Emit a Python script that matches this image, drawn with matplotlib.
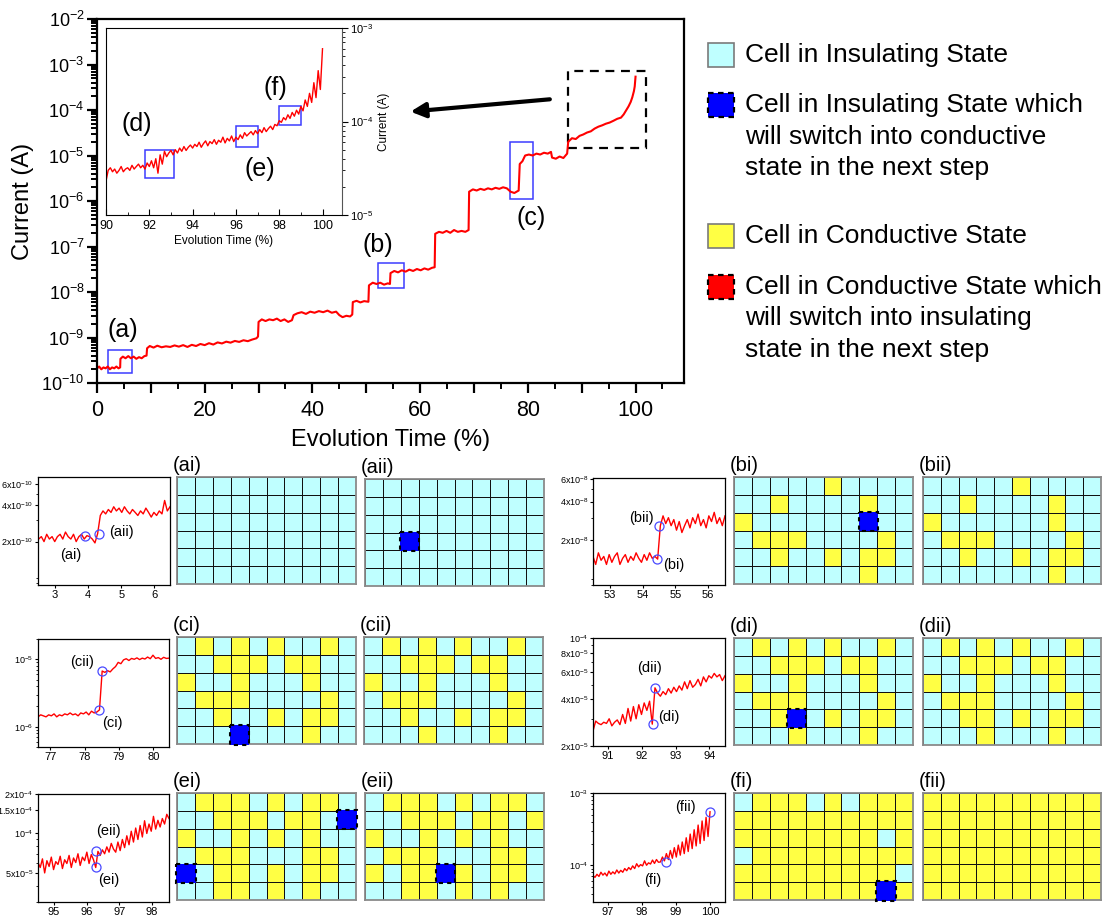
import numpy as np
import matplotlib
matplotlib.use("Agg")
import matplotlib.pyplot as plt
from matplotlib.patches import Rectangle
from matplotlib.colors import ListedColormap
from matplotlib.ticker import (LogLocator, FixedLocator, FixedFormatter,
                               MultipleLocator, FuncFormatter, NullFormatter)

plt.rcParams['font.family'] = ['Liberation Sans', 'DejaVu Sans']
plt.rcParams['mathtext.fontset'] = 'custom'
plt.rcParams['mathtext.rm'] = 'Liberation Sans'
plt.rcParams['mathtext.it'] = 'Liberation Sans'
plt.rcParams['mathtext.default'] = 'regular'

#%% data
main_time = [0, 0.4, 0.8, 1.2, 1.6, 2.0, 2.4, 2.8, 3.2, 3.6, 4.0, 4.3,
             4.35, 4.8, 5.3, 5.8, 6.3, 6.8, 7.3, 7.8, 8.3, 8.8, 9.2,
             9.3, 9.8, 10.5, 11.2, 12, 12.8, 13.6, 14.4, 15.2, 16, 16.8, 17.6, 18.4, 19.2,
             20, 20.8, 21.6, 22.4, 23.2, 24, 24.8, 25.6, 26.4, 27.2, 28, 28.8, 29.6, 29.9,
             30.0, 30.6, 31.3, 32, 32.7, 33.4, 34.1, 34.8, 35.5, 36.2,
             36.5, 37.2, 38, 38.8, 39.6, 40.4, 41.2, 42, 42.8, 43.6, 44.4, 45.0, 45.6, 46.3, 47.0, 47.4,
             47.5, 48.2, 48.9, 49.6, 50.4,
             50.5, 51.2, 51.9, 52.6, 53.3, 54.0, 54.4,
             54.5, 55.2, 55.9, 56.6, 57.3, 58, 58.7, 59.4, 60.1, 60.8, 61.5, 62.2, 62.7,
             62.8, 63.5, 64.2, 64.9, 65.6, 66.3, 67, 67.7, 68.4, 69.0,
             69.1, 69.8, 70.5, 71.2, 71.9, 72.6, 73.3, 74, 74.7, 75.4, 76.1, 76.8, 77.5, 78.3,
             78.5, 79, 79.5, 80.2, 80.9, 81.6, 82.3, 83, 83.7, 84.3,
             84.5, 85.2, 85.9, 86.6, 87.3,
             87.5, 88.2, 88.9, 89.6, 90.3, 91, 91.7, 92.4, 93.1, 93.8, 94.5, 95.2, 95.9, 96.6,
             97.3, 97.8, 98.3, 98.7, 99.1, 99.4, 99.7, 99.85, 100]
main_current = [2.1e-10, 2.3e-10, 2.0e-10, 2.2e-10, 2.1e-10, 2.3e-10, 2.0e-10, 2.2e-10, 2.1e-10, 2.3e-10, 2.1e-10, 2.2e-10,
                3.4e-10, 3.8e-10, 3.5e-10, 3.9e-10, 3.5e-10, 3.8e-10, 3.4e-10, 3.7e-10, 3.5e-10, 3.9e-10, 4.0e-10,
                5.8e-10, 6.5e-10, 6.0e-10, 6.6e-10, 6.1e-10, 6.4e-10, 6.2e-10, 6.7e-10, 6.3e-10, 6.8e-10, 6.2e-10, 6.9e-10,
                6.5e-10, 7.2e-10, 6.8e-10, 7.5e-10, 7.0e-10, 7.8e-10, 7.4e-10, 8.1e-10, 7.7e-10, 8.4e-10, 8.0e-10, 8.7e-10,
                8.3e-10, 9.0e-10, 9.6e-10, 1.05e-9,
                2.2e-9, 2.5e-9, 2.3e-9, 2.5e-9, 2.4e-9, 2.6e-9, 2.3e-9, 2.5e-9, 2.2e-9, 2.4e-9,
                3.1e-9, 3.4e-9, 3.6e-9, 3.3e-9, 3.7e-9, 3.5e-9, 3.8e-9, 3.6e-9, 3.9e-9, 3.5e-9, 3.7e-9, 3.1e-9,
                2.8e-9, 3.0e-9, 2.9e-9, 3.2e-9,
                6.0e-9, 6.4e-9, 5.9e-9, 6.3e-9, 6.1e-9,
                1.4e-8, 1.6e-8, 1.5e-8, 1.6e-8, 1.45e-8, 1.55e-8, 1.5e-8,
                2.6e-8, 2.9e-8, 2.7e-8, 3.0e-8, 2.8e-8, 3.1e-8, 2.9e-8, 3.2e-8, 3.0e-8, 3.3e-8, 3.1e-8, 3.4e-8, 3.5e-8,
                1.9e-7, 2.1e-7, 2.0e-7, 2.2e-7, 2.0e-7, 2.3e-7, 2.1e-7, 2.2e-7, 2.1e-7, 2.3e-7,
                1.6e-6, 1.8e-6, 1.7e-6, 1.85e-6, 1.75e-6, 1.9e-6, 1.8e-6, 1.95e-6, 1.85e-6, 2.0e-6, 1.9e-6, 1.6e-6,
                1.5e-6, 1.7e-6,
                6.5e-6, 7.5e-6, 1.0e-5, 1.05e-5, 1.0e-5, 1.1e-5, 1.05e-5, 1.15e-5, 1.1e-5, 1.2e-5,
                9.0e-6, 8.5e-6, 9.5e-6, 8.8e-6, 1.1e-5,
                2.0e-5, 2.4e-5, 2.3e-5, 2.7e-5, 2.9e-5, 3.2e-5, 3.4e-5, 3.9e-5, 4.3e-5, 4.6e-5, 5.0e-5, 5.3e-5,
                5.8e-5, 6.4e-5, 6.8e-5, 8.0e-5, 1.0e-4, 1.2e-4, 1.5e-4, 1.9e-4, 2.6e-4, 3.3e-4, 5.4e-4]

inset_time = np.linspace(90, 100, 101)
inset_current = np.array([
    2.3, 3.0, 3.2, 2.9, 3.1, 2.8, 3.0, 3.3, 2.9, 3.1,
    3.2, 3.0, 3.4, 3.1, 3.3, 3.5, 3.2, 3.4, 3.1, 3.6,
    3.3, 3.8, 3.2, 4.0, 2.8, 4.4, 3.5, 4.8, 4.2, 4.6,
    4.9, 4.4, 5.0, 4.6, 5.2, 4.8, 5.4, 4.9, 5.3, 5.6,
    5.2, 5.7, 5.4, 6.0, 5.3, 5.8, 6.2, 5.5, 6.1, 5.8,
    6.4, 5.7, 6.3, 6.0, 6.8, 5.9, 6.6, 6.2, 7.0, 6.1,
    6.8, 6.4, 7.2, 6.6, 7.6, 7.0, 7.4, 7.8, 7.2, 8.0,
    7.4, 8.2, 7.6, 8.6, 7.8, 8.4, 8.9, 8.2, 9.3, 9.0,
    10.2, 9.8, 11.0, 10.4, 11.8, 10.8, 12.5, 11.4, 13.2, 12.0,
    14.5, 13.0, 17.0, 14.5, 20.0, 16.0, 26.0, 18.0, 35.0, 22.0,
    60.0]) * 1e-5

# zoomed traces (a)-(f)
a_time = np.linspace(2.5, 6.48, 50)
a_current = np.array([2.1, 2.2, 2.0, 2.3, 2.1, 2.2, 2.0, 2.2, 2.3, 2.1, 2.4, 2.2, 2.1, 2.3, 2.0, 2.2,
                      2.3, 2.1, 2.24, 2.2, 2.1, 1.95, 2.33,
                      3.3, 3.6, 3.4, 3.7, 3.5, 3.9, 3.6, 3.8, 3.5, 3.9, 3.6, 3.4, 3.7, 3.5, 3.3, 3.6,
                      3.4, 3.8, 3.5, 3.2, 3.5, 3.3, 3.6, 3.4, 4.4, 3.6, 3.9]) * 1e-10
b_time = np.linspace(52.48, 56.52, 50)
b_current = np.array([1.5, 1.3, 1.6, 1.4, 1.5, 1.3, 1.55, 1.35, 1.5, 1.6, 1.3, 1.45, 1.55, 1.35, 1.5,
                      1.4, 1.6, 1.45, 1.35, 1.55, 1.4, 1.6, 1.45, 1.5, 1.43,
                      2.6, 3.1, 2.7, 3.0, 2.6, 2.9, 2.4, 2.8, 2.3, 2.6, 2.9, 2.5, 3.0, 2.7, 3.2,
                      2.6, 2.9, 2.5, 3.1, 2.8, 3.3, 2.7, 3.0, 2.6, 3.1]) * 1e-8
c_time = np.linspace(76.65, 80.45, 50)
c_current = np.array([1.4, 1.5, 1.45, 1.4, 1.5, 1.45, 1.55, 1.4, 1.5, 1.45, 1.55, 1.5, 1.6, 1.5, 1.55,
                      1.45, 1.6, 1.55, 1.65, 1.5, 1.7, 1.6, 1.65, 1.78,
                      6.7, 6.4, 6.8, 6.5, 7.2, 7.8, 9.0, 8.6, 9.8, 10.2, 9.6, 10.3, 10.0, 10.5, 9.9,
                      10.4, 10.1, 10.8, 10.2, 11.5, 10.3, 10.6, 10.0, 10.7, 10.3, 10.4]) * 1e-6
d_time = np.linspace(90.55, 94.47, 50)
d_current = np.array([2.5, 2.9, 2.8, 2.75, 2.85, 2.8, 3.0, 2.7, 2.85, 2.95, 2.75, 3.2, 2.8, 3.5, 2.9,
                      3.6, 3.0, 3.7, 3.2, 3.8, 3.4, 3.9, 2.77,
                      4.76, 4.4, 4.2, 4.5, 4.3, 4.7, 4.4, 4.8, 4.5, 4.9, 4.6, 5.2, 4.7, 5.3, 4.8,
                      5.0, 5.4, 4.9, 5.6, 5.2, 5.7, 5.5, 5.9, 5.6, 5.8, 5.3, 5.7]) * 1e-5
e_time = np.linspace(94.51, 98.52, 60)
e_current = np.array([6.0, 5.5, 6.4, 5.0, 6.2, 5.6, 6.6, 5.3, 6.1, 5.8, 6.7, 5.4, 6.3, 5.9, 6.8,
                      5.5, 6.5, 6.0, 7.0, 5.7, 6.6, 6.2, 7.2, 5.9, 6.9, 6.3, 5.5,
                      7.3, 6.8, 7.5, 7.0, 7.9, 7.2, 8.4, 7.6, 7.2, 8.6, 7.4, 9.0, 7.8, 9.6, 8.2,
                      10.4, 8.6, 11.0, 9.0, 11.5, 9.4, 12.5, 10.0, 11.8, 10.4, 13.5, 10.8, 12.6,
                      11.2, 13.0, 11.8, 14.0, 13.0]) * 1e-5
f_time = np.linspace(96.56, 100.0, 60)
f_current = np.array([7.2, 6.8, 7.5, 7.0, 8.0, 7.3, 7.8, 7.1, 8.3, 7.5, 8.1, 7.6, 8.6, 7.8, 8.5, 8.0, 9.0,
                      8.4, 9.3, 8.7, 9.8, 9.0, 10.5, 9.5, 10.2, 9.8, 11.5, 10.0, 10.8, 10.4, 11.8, 10.6,
                      12.0, 11.0,
                      11.1, 13.0, 11.5, 14.5, 12.0, 16.0, 12.5, 17.5, 13.0, 19.0, 13.8, 21.0,
                      14.5, 24.0, 15.5, 27.0, 17.0, 31.0, 18.5, 36.0, 20.0, 41.0, 22.0, 46.0,
                      25.0, 55.0]) * 1e-5

# cell states: 0 insulating, 1 conductive, 2 insulating -> will switch
grid_ai = ["0000000000"] * 6
grid_aii = ["0000000000", "0000000000", "0000000000", "0020000000", "0000000000", "0000000000"]
grid_bi = ["0000010000", "0010000100", "1000000200", "0111000010", "0010010110", "0000000100"]
grid_bii = ["0000010000", "0010000100", "1000000100", "0111000010", "0010010110", "0000000100"]
grid_ci = ["0101010010", "0011101100", "1001000100", "0111000010", "0010010110", "0002000100"]
grid_cii = ["0101010010", "0011101100", "1001000100", "0111000010", "0010010110", "0001000100"]
grid_di = ["0101010010", "0011101100", "1001000100", "0111000010", "0012010110", "0001000100"]
grid_dii = ["0101010010", "0011101100", "1001000100", "0111000010", "0011010110", "0001000100"]
grid_ei = ["0111010110", "0011101102", "1001010100", "0111000110", "2011010110", "0011010100"]
grid_eii = ["0111010110", "0011101101", "1001010100", "0111000110", "1011210110", "0011010100"]
grid_fi = ["0111010111", "1111111111", "1111111101", "0111111111", "1111111110", "1111111121"]
grid_fii = ["1111111111"] * 6

legend_labels = ["Cell in Insulating State",
                 ["Cell in Insulating State which", "will switch into conductive", "state in the next step"],
                 "Cell in Conductive State",
                 ["Cell in Conductive State which", "will switch into insulating", "state in the next step"]]

#%% styling
W, H = 1110, 915
cyan = '#BFFFFF'
yellow = '#FFFF44'
blue = '#0000FF'
red = '#FF0000'
box_blue = '#3C3CFF'


def box(l, t, r, b):
    return [l / W, 1 - b / H, (r - l) / W, (b - t) / H]


fig = plt.figure(figsize=(11.1, 9.15), dpi=100)

#%% main plot
ax = fig.add_axes(box(97, 19, 684, 383))
ax.plot(main_time, main_current, color=red, lw=1.5)
ax.set_yscale('log')
ax.set_xlim(0, 109)
ax.set_ylim(1e-10, 1e-2)
ax.xaxis.set_major_locator(MultipleLocator(10))
ax.xaxis.set_minor_locator(MultipleLocator(5))
ax.xaxis.set_major_formatter(FuncFormatter(lambda v, p: f"{v:.0f}" if round(v) % 20 == 0 else ""))
ax.yaxis.set_major_locator(LogLocator(base=10, numticks=20))
ax.yaxis.set_minor_locator(LogLocator(base=10, subs=np.arange(2, 10), numticks=20))
ax.yaxis.set_minor_formatter(NullFormatter())
ax.tick_params(which='major', direction='out', length=7, width=1.6)
ax.tick_params(which='minor', direction='out', length=4, width=1.4)
ax.tick_params(axis='x', labelsize=15.5, pad=5)
ax.tick_params(axis='y', labelsize=13, pad=2)
for s in ax.spines.values():
    s.set_linewidth(1.6)
ax.set_xlabel('Evolution Time (%)', fontsize=17, labelpad=6)
ax.set_ylabel('Current (A)', fontsize=17, labelpad=5)

main_boxes = [(2.0, 6.5, 1.66e-10, 5.3e-10), (52.1, 57.0, 1.23e-8, 4.4e-8), (76.6, 80.9, 1.1e-6, 2e-5)]
for x0, x1, y0, y1 in main_boxes:
    ax.add_patch(Rectangle((x0, y0), x1 - x0, y1 - y0, fill=False, ec=box_blue, lw=1.1))
ax.add_patch(Rectangle((87.4, 1.43e-5), 14.5, 7.2e-4 - 1.43e-5, fill=False, ec='k', lw=1.6,
                       ls=(0, (4, 3))))
ax.annotate('', xy=(57.7, 9.1e-5), xytext=(84.6, 1.74e-4),
            arrowprops=dict(arrowstyle='-|>', lw=3, color='k', mutation_scale=22))
for txt, x, y in [('(a)', 4.8, 1.45e-9), ('(b)', 52.1, 1.07e-7), ('(c)', 80.7, 4.3e-7)]:
    ax.text(x, y, txt, fontsize=18, ha='center', va='center')

#%% inset
axin = fig.add_axes(box(106, 28, 342, 215))
axin.set_facecolor('white')
axin.plot(inset_time, inset_current, color=red, lw=1)
axin.set_yscale('log')
axin.set_xlim(90, 100.9)
axin.set_ylim(1e-5, 1e-3)
axin.yaxis.tick_right()
axin.yaxis.set_label_position('right')
axin.xaxis.set_major_locator(MultipleLocator(2))
axin.xaxis.set_minor_locator(MultipleLocator(1))
axin.tick_params(axis='x', which='major', direction='in', length=4, labelsize=9)
axin.tick_params(axis='x', which='minor', direction='in', length=2.5)
axin.tick_params(axis='y', which='major', direction='out', length=4, labelsize=8, pad=2)
axin.tick_params(axis='y', which='minor', direction='out', length=2.5)
axin.spines['right'].set_color('#555555')
axin.set_xlabel('Evolution Time (%)', fontsize=8.5, labelpad=2)
axin.set_ylabel('Current (A)', fontsize=8.5, labelpad=3)
inset_boxes = [(91.8, 93.15, 2.5e-5, 4.9e-5), (96.0, 97.0, 5.4e-5, 8.9e-5), (98.0, 99.0, 9.1e-5, 1.48e-4)]
for x0, x1, y0, y1 in inset_boxes:
    axin.add_patch(Rectangle((x0, y0), x1 - x0, y1 - y0, fill=False, ec=box_blue, lw=1.1))
for txt, x, y in [('(d)', 91.43, 9.3e-5), ('(e)', 97.1, 3.1e-5), ('(f)', 97.8, 2.3e-4)]:
    axin.text(x, y, txt, fontsize=18, ha='center', va='center')


#%% zoomed traces
def small_plot(rect, t, cur, xlim, ylim, xticks, yticks, ylabels, circles, labels):
    a = fig.add_axes(box(*rect))
    a.plot(t, cur, color=red, lw=1)
    a.set_yscale('log')
    a.set_xlim(*xlim)
    a.set_ylim(*ylim)
    a.xaxis.set_major_locator(FixedLocator(xticks))
    a.yaxis.set_major_locator(FixedLocator(yticks))
    a.yaxis.set_major_formatter(FixedFormatter(ylabels))
    a.yaxis.set_minor_locator(LogLocator(base=10, subs=np.arange(1, 10), numticks=20))
    a.yaxis.set_minor_formatter(NullFormatter())
    a.tick_params(which='major', direction='out', length=2.5, width=0.8, pad=1)
    a.tick_params(axis='x', labelsize=8)
    a.tick_params(axis='y', labelsize=6.5)
    a.tick_params(which='minor', direction='out', length=1.5, width=0.6)
    for s in a.spines.values():
        s.set_linewidth(0.9)
    cx = [c[0] for c in circles]
    cy = [c[1] for c in circles]
    a.plot(cx, cy, 'o', mfc='none', mec='#4A4AFF', ms=6.5, mew=0.9)
    for txt, x, y in labels:
        a.text(x, y, txt, fontsize=10.5, ha='center', va='center')


sup = lambda m, e: (f"{m}x" if m else "") + "10$^{" + str(e) + "}$"
small_plot((38, 477, 170, 585), a_time, a_current, (2.48, 6.48), (8.7e-11, 6.9e-10), [3, 4, 5, 6],
           [2e-10, 4e-10, 6e-10], [sup(2, -10), sup(4, -10), sup(6, -10)],
           [(3.9, 2.24e-10), (4.32, 2.33e-10)], [('(ai)', 3.47, 1.55e-10), ('(aii)', 5.0, 2.4e-10)])
small_plot((593, 478, 725, 585), b_time, b_current, (52.48, 56.52), (9e-9, 6.1e-8), [53, 54, 55, 56],
           [2e-8, 4e-8, 6e-8], [sup(2, -8), sup(4, -8), sup(6, -8)],
           [(54.45, 1.43e-8), (54.5, 2.57e-8)], [('(bii)', 53.97, 3.0e-8), ('(bi)', 54.96, 1.28e-8)])
small_plot((38, 639, 169, 747), c_time, c_current, (76.65, 80.45), (5e-7, 2e-5), [77, 78, 79, 80],
           [1e-6, 1e-5], [sup(None, -6), sup(None, -5)],
           [(78.43, 1.78e-6), (78.5, 6.7e-6)], [('(cii)', 77.94, 9.1e-6), ('(ci)', 78.8, 1.15e-6)])
small_plot((593, 638, 725, 746), d_time, d_current, (90.55, 94.47), (2e-5, 1e-4), [91, 92, 93, 94],
           [2e-5, 4e-5, 6e-5, 8e-5, 1e-4], [sup(2, -5), sup(4, -5), sup(6, -5), sup(8, -5), sup(None, -4)],
           [(92.32, 2.77e-5), (92.4, 4.76e-5)], [('(dii)', 92.22, 6.4e-5), ('(di)', 92.81, 3.1e-5)])
small_plot((38, 794, 169, 902), e_time, e_current, (94.51, 98.52), (3e-5, 2e-4), [95, 96, 97, 98],
           [5e-5, 1e-4, 1.5e-4, 2e-4], [sup(5, -5), sup(None, -4), sup(1.5, -4), sup(2, -4)],
           [(96.28, 5.5e-5), (96.3, 7.3e-5)], [('(eii)', 96.66, 1.05e-4), ('(ei)', 96.68, 4.4e-5)])
small_plot((593, 793, 725, 902), f_time, f_current, (96.56, 100.44), (3.1e-5, 1e-3), [97, 98, 99, 100],
           [1e-4, 1e-3], [sup(None, -4), sup(None, -3)],
           [(98.7, 1.11e-4), (100.0, 5.5e-4)], [('(fii)', 99.29, 6.4e-4), ('(fi)', 98.33, 6.2e-5)])

#%% cell grids
cell_cmap = ListedColormap([cyan, yellow, blue])


def draw_grid(rect, rows, title):
    g = fig.add_axes(box(*rect))
    m = np.array([[int(c) for c in r] for r in rows])
    g.pcolormesh(np.where(m == 2, 0, m), cmap=cell_cmap, vmin=0, vmax=2, edgecolors='#111111',
                 linewidth=0.5)
    for r, c in zip(*np.where(m == 2)):
        g.add_patch(Rectangle((c - 0.04, r - 0.04), 1.08, 1.08, fc=blue, ec='k', lw=1.5,
                              ls=(0, (2, 2)), zorder=3, clip_on=False))
    g.set_xlim(0, m.shape[1])
    g.set_ylim(m.shape[0], 0)
    g.set_xticks([])
    g.set_yticks([])
    for s in g.spines.values():
        s.set_color('#8a8a8a')
        s.set_linewidth(1.3)
    g.text(-0.025, 1.015, title, transform=g.transAxes, ha='left', va='bottom', fontsize=14.5)


draw_grid((177, 477, 356, 584), grid_ai, '(ai)')
draw_grid((365, 479, 544, 586), grid_aii, '(aii)')
draw_grid((734, 477, 913, 584), grid_bi, '(bi)')
draw_grid((923, 477, 1101, 584), grid_bii, '(bii)')
draw_grid((177, 637, 356, 744), grid_ci, '(ci)')
draw_grid((364, 637, 543, 744), grid_cii, '(cii)')
draw_grid((734, 638, 913, 745), grid_di, '(di)')
draw_grid((923, 638, 1101, 745), grid_dii, '(dii)')
draw_grid((177, 793, 356, 900), grid_ei, '(ei)')
draw_grid((365, 793, 544, 900), grid_eii, '(eii)')
draw_grid((734, 793, 913, 900), grid_fi, '(fi)')
draw_grid((923, 793, 1101, 900), grid_fii, '(fii)')

#%% legend (drawn in pixel coordinates)
ov = fig.add_axes([0, 0, 1, 1])
ov.set_xlim(0, W)
ov.set_ylim(H, 0)
ov.axis('off')
legend_faces = [cyan, blue, yellow, red]
legend_dashed = [False, True, False, True]
legend_rows = [55, 105, 236, 287]
for face, dashed, yc, lab in zip(legend_faces, legend_dashed, legend_rows, legend_labels):
    ov.add_patch(Rectangle((708, yc - 12), 26, 24, fc=face,
                           ec='k' if dashed else '#7a7a7a', lw=1.6 if dashed else 1.2,
                           ls=(0, (2.5, 2)) if dashed else '-'))
    lines = lab if isinstance(lab, list) else [lab]
    for i, line in enumerate(lines):
        ov.text(745, yc + i * 31.5, line, fontsize=19, ha='left', va='center')

fig.savefig('out.png', dpi=100)
